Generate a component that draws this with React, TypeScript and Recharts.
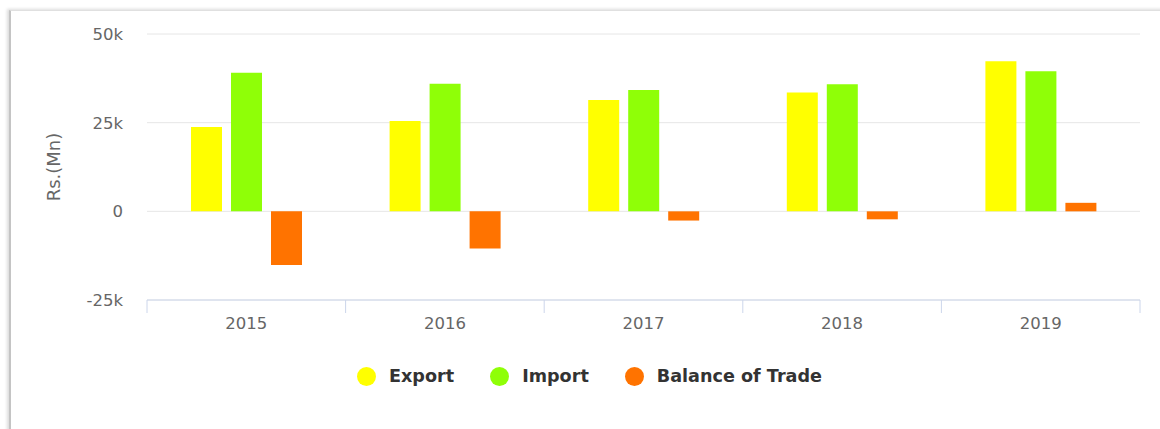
import { Bar, BarChart, CartesianGrid, XAxis, YAxis } from "recharts";

const years = ["2015", "2016", "2017", "2018", "2019"];
const exportVals = [23800, 25500, 31400, 33500, 42300];
const importVals = [39100, 36000, 34200, 35800, 39500];
const balanceVals = [-15100, -10500, -2600, -2250, 2400];
const yTicks = [-25000, 0, 25000, 50000];

const series = [
  { key: "export", name: "Export", color: "#FFFF00" },
  { key: "import", name: "Import", color: "#8FFF07" },
  { key: "balance", name: "Balance of Trade", color: "#FF7300" },
];

const data = years.map((y, i) => ({
  year: y,
  export: exportVals[i],
  import: importVals[i],
  balance: balanceVals[i],
}));

const W = 1160;
const H = 429;
const M = { top: 34, right: 20, left: 0, bottom: 99 };
const Y_W = 147;
const X_H = 30;
const band = (W - M.left - Y_W - M.right) / years.length;

const font = "'DejaVu Sans', Verdana, sans-serif";
const fmt = (v: number) => (v === 0 ? "0" : `${v / 1000}k`);

function YearTick(props: any) {
  const { x, y, payload, index } = props;
  const axisColor = "#ccd6eb";
  return (
    <g>
      <line x1={x - band / 2} x2={x - band / 2} y1={y} y2={y + 13} stroke={axisColor} />
      {index === years.length - 1 && (
        <line x1={x + band / 2} x2={x + band / 2} y1={y} y2={y + 13} stroke={axisColor} />
      )}
      <text x={x} y={y + 29} textAnchor="middle" fill="#666" fontSize={16.5} fontFamily={font}>
        {payload.value}
      </text>
    </g>
  );
}

function YLabel(props: any) {
  const vb = props.viewBox || {};
  const cy = vb.y + vb.height / 2;
  const cx = 53;
  return (
    <text
      x={cx}
      y={cy}
      transform={`rotate(-90, ${cx}, ${cy})`}
      textAnchor="middle"
      dominantBaseline="central"
      fill="#666"
      fontSize={18}
      fontFamily={font}
    >
      Rs.(Mn)
    </text>
  );
}

export default function App() {
  return (
    <div style={{ position: "absolute", left: 0, top: 0, width: W, height: H, background: "#fff", overflow: "hidden" }}>
      <div
        style={{
          position: "absolute",
          left: 9,
          top: 10,
          width: W,
          height: H,
          borderTop: "1px solid #e0e0e0",
          borderLeft: "2px solid #c4c4c4",
          boxShadow: "-2px -1px 3px rgba(0,0,0,0.14)",
        }}
      />
      <div style={{ position: "absolute", left: 0, top: 0 }}>
        <BarChart width={W} height={H} data={data} margin={M} barSize={31} barGap={9}>
          <CartesianGrid stroke="#e6e6e6" vertical={false} />
          <XAxis
            dataKey="year"
            height={X_H}
            axisLine={{ stroke: "#ccd6eb" }}
            tickLine={false}
            tickSize={0}
            tickMargin={0}
            interval={0}
            tick={<YearTick />}
          />
          <YAxis
            width={Y_W}
            domain={[-25000, 50000]}
            ticks={yTicks}
            tickFormatter={fmt}
            axisLine={false}
            tickLine={false}
            tickSize={0}
            tickMargin={24}
            tick={{ fill: "#666", fontSize: 16.5, fontFamily: font }}
            label={<YLabel />}
          />
          {series.map((s) => (
            <Bar key={s.key} dataKey={s.key} name={s.name} fill={s.color} isAnimationActive={false} />
          ))}
        </BarChart>
      </div>
      <div
        style={{
          position: "absolute",
          left: 357,
          top: 366,
          display: "flex",
          alignItems: "center",
          gap: 36,
          fontFamily: font,
          fontWeight: "bold",
          fontSize: 17.6,
          color: "#333",
        }}
      >
        {series.map((s) => (
          <div key={s.key} style={{ display: "flex", alignItems: "center" }}>
            <span
              style={{
                display: "inline-block",
                width: 19,
                height: 19,
                borderRadius: 9.5,
                background: s.color,
                marginRight: 13,
              }}
            />
            <span>{s.name}</span>
          </div>
        ))}
      </div>
    </div>
  );
}
